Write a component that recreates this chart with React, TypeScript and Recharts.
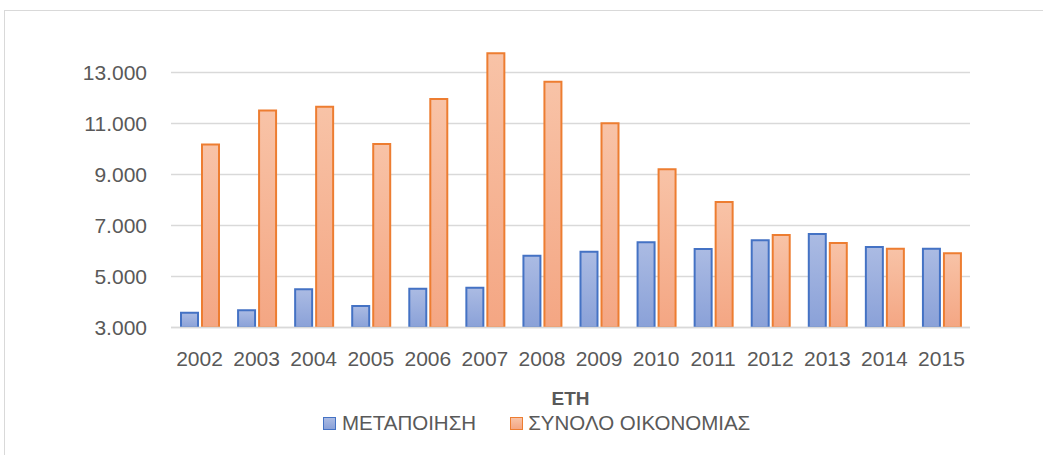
import React from 'react';
import { BarChart, Bar, XAxis, YAxis, CartesianGrid, Legend } from 'recharts';

const years = ['2002', '2003', '2004', '2005', '2006', '2007', '2008', '2009', '2010', '2011', '2012', '2013', '2014', '2015'];
const metapoiisi = [3576, 3680, 4500, 3843, 4522, 4561, 5816, 5973, 6345, 6078, 6420, 6667, 6157, 6090];
const synoloOikonomias = [10176, 11510, 11660, 10196, 11961, 13752, 12640, 11007, 9204, 7922, 6627, 6314, 6090, 5910];
const yTicks = [3000, 5000, 7000, 9000, 11000, 13000];
const Y_MIN = 3000;
const Y_MAX = 14000;

const data = years.map((y, i) => ({
  year: y,
  metapoiisi: metapoiisi[i],
  synolo: synoloOikonomias[i],
}));

const FONT = '"Liberation Sans", Arial, sans-serif';
const TEXT = '#595959';

const fmt = (v: number) => v.toString().replace(/\B(?=(\d{3})+(?!\d))/g, '.');

// only the labelled ticks get a gridline (no line at the top of the domain)
const gridRows = ({ yAxis, offset }: any) =>
  yTicks.map(t =>
    yAxis && typeof yAxis.scale === 'function'
      ? yAxis.scale(t)
      : offset.top + (offset.height * (Y_MAX - t)) / (Y_MAX - Y_MIN)
  );

const LegendContent = () => (
  <div style={{ display: 'flex', alignItems: 'center', fontFamily: FONT, fontSize: 20.5, color: TEXT, paddingLeft: 323 }}>
    <span style={{ width: 11, height: 11, border: '1.5px solid #4472c4', background: 'linear-gradient(#abbbe3, #8aa1d8)', marginRight: 6 }} />
    <span style={{ marginRight: 34 }}>ΜΕΤΑΠΟΙΗΣΗ</span>
    <span style={{ width: 11, height: 11, border: '1.5px solid #ed7d31', background: 'linear-gradient(#f8c3a7, #f4a683)', marginRight: 5 }} />
    <span>ΣΥΝΟΛΟ ΟΙΚΟΝΟΜΙΑΣ</span>
  </div>
);

export default function App(): React.JSX.Element {
  return (
    <div style={{ position: 'absolute', left: 0, top: 0, width: 1043, height: 455, background: '#fff', overflow: 'hidden' }}>
      {/* chart frame, runs off the right and bottom edges */}
      <div style={{ position: 'absolute', left: 4, top: 10, width: 1100, height: 500, border: '1.5px solid #d9d9d9' }} />
      <BarChart
        width={1043}
        height={455}
        data={data}
        margin={{ top: 47, right: 73, left: 0, bottom: 40 }}
        barSize={17}
        barGap={4}
      >
        <defs>
          <linearGradient id="gradBlue" x1="0" y1="0" x2="0" y2="1">
            <stop offset="0%" stopColor="#abbbe3" />
            <stop offset="100%" stopColor="#8aa1d8" />
          </linearGradient>
          <linearGradient id="gradOrange" x1="0" y1="0" x2="0" y2="1">
            <stop offset="0%" stopColor="#f8c3a7" />
            <stop offset="100%" stopColor="#f4a683" />
          </linearGradient>
        </defs>
        <CartesianGrid vertical={false} horizontalCoordinatesGenerator={gridRows} stroke="#d9d9d9" strokeWidth={1.5} />
        <XAxis
          dataKey="year"
          height={87.5}
          tickLine={false}
          axisLine={{ stroke: '#d9d9d9', strokeWidth: 1.5 }}
          tick={{ fill: TEXT, fontSize: 21, fontFamily: FONT }}
          tickMargin={18}
          interval={0}
          label={{ value: 'ΕΤΗ', position: 'insideTop', offset: 64, fill: TEXT, fontSize: 19, fontWeight: 700, fontFamily: FONT }}
        />
        <YAxis
          width={171}
          domain={[Y_MIN, Y_MAX]}
          ticks={yTicks}
          allowDataOverflow
          axisLine={false}
          tickLine={false}
          tickMargin={18}
          tickFormatter={fmt}
          tick={{ fill: TEXT, fontSize: 21, fontFamily: FONT }}
        />
        <Legend
          verticalAlign="middle"
          align="center"
          layout="horizontal"
          wrapperStyle={{ top: 411, left: 0, width: 1043, height: 24 }}
          content={<LegendContent />}
        />
        <Bar dataKey="metapoiisi" name="ΜΕΤΑΠΟΙΗΣΗ" fill="url(#gradBlue)" stroke="#4472c4" strokeWidth={2} isAnimationActive={false} />
        <Bar dataKey="synolo" name="ΣΥΝΟΛΟ ΟΙΚΟΝΟΜΙΑΣ" fill="url(#gradOrange)" stroke="#ed7d31" strokeWidth={2} isAnimationActive={false} />
      </BarChart>
    </div>
  );
}
